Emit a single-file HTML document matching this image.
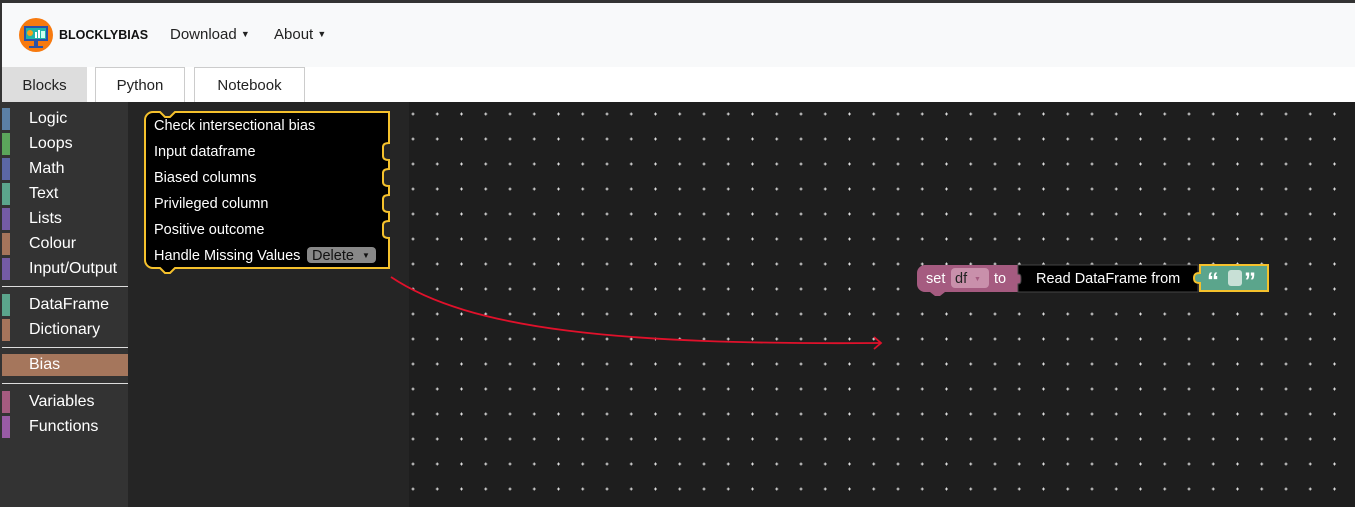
<!DOCTYPE html>
<html><head><meta charset="utf-8">
<style>
*{margin:0;padding:0;box-sizing:border-box}
body{width:1355px;height:507px;overflow:hidden;background:#333;font-family:"Liberation Sans",Arial,sans-serif;position:relative}
.abs{position:absolute}
#header{left:2px;top:3px;width:1353px;height:64px;background:#f8f9fa}
#tabbar{left:2px;top:67px;width:1353px;height:35px;background:#fff}
.tab{position:absolute;top:0;height:35px;font-size:15px;color:#222;text-align:center;line-height:35px;border:1px solid #ccc;border-bottom:none;background:#fff}
.cat{position:absolute;left:2px;width:126px;height:22px;font-size:16px;color:#fff;line-height:22px}
.cat .bar{position:absolute;left:0;top:0;width:8px;height:22px}
.cat span{position:absolute;left:27px}
.sep{position:absolute;left:2px;width:126px;height:1px;background:#ddd}
</style></head><body>
<div class="abs" id="header">
  <svg class="abs" style="left:16px;top:14px" width="36" height="36">
    <circle cx="18" cy="18" r="17" fill="#f77a0f"/>
    <rect x="6" y="9" width="24" height="15" fill="#2a52a8"/>
    <rect x="8" y="11" width="20" height="11" fill="#1fb5a8"/>
    <circle cx="12" cy="16" r="3" fill="#f7a21a"/>
    <rect x="17" y="15" width="2" height="6" fill="#fff"/><rect x="20" y="13" width="2" height="8" fill="#fff"/><rect x="23" y="14" width="4" height="7" fill="#cfe"/>
    <rect x="16" y="24" width="4" height="5" fill="#2a52a8"/><rect x="11" y="29" width="14" height="2" fill="#2a52a8"/>
  </svg>
  <div class="abs" style="left:57px;top:25px;font-size:12.5px;font-weight:bold;color:#111">BLOCKLYBIAS</div>
  <div class="abs" style="left:168px;top:23px;font-size:15px;color:#222">Download <span style="font-size:9px;position:relative;top:-2px">▼</span></div>
  <div class="abs" style="left:272px;top:23px;font-size:15px;color:#222">About <span style="font-size:9px;position:relative;top:-2px">▼</span></div>
</div>
<div class="abs" id="tabbar">
  <div class="tab" style="left:0;width:85px;background:#ddd;border-color:#ddd">Blocks</div>
  <div class="tab" style="left:93px;width:90px">Python</div>
  <div class="tab" style="left:192px;width:111px">Notebook</div>
</div>
<div class="abs" style="left:2px;top:102px;width:126px;height:405px;background:#333"></div>
<div class="abs" style="left:128px;top:102px;width:281px;height:405px;background:#252525"></div>
<div class="abs" style="left:409px;top:102px;width:946px;height:405px;background:#1e1e1e"></div>

<div class="cat" style="top:108px"><div class="bar" style="background:#5b80a5"></div><span>Logic</span></div>
<div class="cat" style="top:133px"><div class="bar" style="background:#5ba55b"></div><span>Loops</span></div>
<div class="cat" style="top:158px"><div class="bar" style="background:#5b67a5"></div><span>Math</span></div>
<div class="cat" style="top:183px"><div class="bar" style="background:#5ba58c"></div><span>Text</span></div>
<div class="cat" style="top:208px"><div class="bar" style="background:#745ba5"></div><span>Lists</span></div>
<div class="cat" style="top:233px"><div class="bar" style="background:#a5745b"></div><span>Colour</span></div>
<div class="cat" style="top:258px"><div class="bar" style="background:#745ba5"></div><span>Input/Output</span></div>
<div class="sep" style="top:286px"></div>
<div class="cat" style="top:294px"><div class="bar" style="background:#5ba58c"></div><span>DataFrame</span></div>
<div class="cat" style="top:319px"><div class="bar" style="background:#a5745b"></div><span>Dictionary</span></div>
<div class="sep" style="top:347px"></div>
<div class="cat" style="top:354px;background:#a5765c"><div class="bar" style="background:#a5765c"></div><span>Bias</span></div>
<div class="sep" style="top:383px"></div>
<div class="cat" style="top:391px"><div class="bar" style="background:#a55b80"></div><span>Variables</span></div>
<div class="cat" style="top:416px"><div class="bar" style="background:#995ba5"></div><span>Functions</span></div>

<svg class="abs" style="left:0;top:0" width="1355" height="507">
  <defs><pattern id="dots" x="413" y="114" width="24.25" height="25" patternUnits="userSpaceOnUse">
    <path d="M0,-1.5V1.5M-1.5,0H1.5M24.25,-1.5V1.5M22.75,0H25.75M0,23.5V26.5M-1.5,25H1.5M24.25,23.5V26.5M22.75,25H25.75" stroke="#ddd" stroke-width="1"/></pattern></defs>
  <rect x="409" y="102" width="946" height="405" fill="url(#dots)"/>
  <g>
  <path d="M153,112 h7 l5,5 h5 l5,-5 h214 v31 c-5,0 -6,2 -6,4 v9 c0,2 1,4 6,4 v9 c-5,0 -6,2 -6,4 v9 c0,2 1,4 6,4 v9 c-5,0 -6,2 -6,4 v9 c0,2 1,4 6,4 v9 c-5,0 -6,2 -6,4 v9 c0,2 1,4 6,4 v30 h-214 l-5,5 h-5 l-5,-5 h-7 a8,8 0 0 1 -8,-8 v-140 a8,8 0 0 1 8,-8 z" fill="#000" stroke="#f5c12c" stroke-width="2"/>
  <g fill="#fff" font-size="14.5" font-family="Liberation Sans,Arial,sans-serif">
    <text x="154" y="130">Check intersectional bias</text>
    <text x="154" y="156">Input dataframe</text>
    <text x="154" y="182">Biased columns</text>
    <text x="154" y="208">Privileged column</text>
    <text x="154" y="234">Positive outcome</text>
    <text x="154" y="260">Handle Missing Values</text>
  </g>
  <rect x="307" y="247" width="69" height="16" rx="4" fill="#888"/>
  <text x="312" y="260" fill="#111" font-size="14.5">Delete</text>
  <text x="362" y="258" fill="#111" font-size="8">▼</text>
  </g>
  <path d="M391,277 C470,330 620,345 880,343" fill="none" stroke="#e0112b" stroke-width="1.8"/>
  <path d="M874,337 L881,343 L874,349" fill="none" stroke="#e0112b" stroke-width="1.8"/>
  <g>
    <path d="M925,265 h100 v27 h-80 l-5,4 h-5 l-5,-4 h-5 a8,8 0 0 1 -8,-8 v-11 a8,8 0 0 1 8,-8 z" fill="#a55b80"/>
    <text x="926" y="283" fill="#fff" font-size="14.5">set</text>
    <rect x="951" y="268" width="38" height="20" rx="4" fill="#c990ab"/>
    <text x="955" y="283" fill="#222" font-size="14.5">df</text>
    <text x="974" y="281" fill="#a55b80" font-size="7">▼</text>
    <text x="994" y="283" fill="#fff" font-size="14.5">to</text>
  </g>
  <g>
    <path d="M1018,265 h180 v27 h-180 v-8 c3,0 3,-2 3,-5 s0,-5 -3,-5 z" fill="#000" stroke="#444" stroke-width="1"/>
    <text x="1036" y="283" fill="#fff" font-size="14.5">Read DataFrame from</text>
  </g>
  <g>
    <path d="M1200,265 h68 v26 h-68 v-8 c-4,0 -6,-1 -6,-5 s2,-5 6,-5 z" fill="#5ba58c" stroke="#f5c12c" stroke-width="2"/>
    <text x="1207" y="289" fill="#fff" font-size="24" font-weight="bold">“</text>
    <rect x="1228" y="270" width="14" height="16" rx="3" fill="#c8e0d6"/>
    <text x="1244" y="289" fill="#fff" font-size="24" font-weight="bold">”</text>
  </g>
</svg>
</body></html>
